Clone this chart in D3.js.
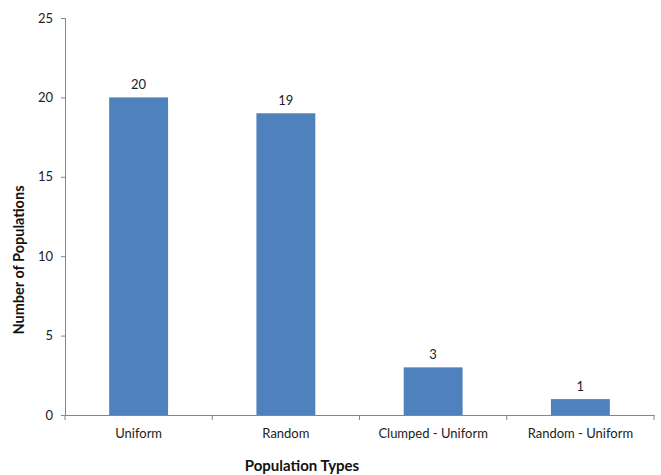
<!DOCTYPE html>
<html><head><meta charset="utf-8">
<script src="https://cdn.jsdelivr.net/npm/d3@7"></script>
<style>body{margin:0;background:#fff}svg{display:block}</style>
</head><body>
<script>
const categories = ["Uniform", "Random", "Clumped - Uniform", "Random - Uniform"];
const values = [20, 19, 3, 1];
const yTicks = [0, 5, 10, 15, 20, 25];
const xTitle = "Population Types";
const yTitle = "Number of Populations";

const W = 661, H = 475;
const m = {left: 65, right: 7, top: 18, bottom: 60};
const font = "Lato, 'Open Sans', sans-serif";
const svg = d3.select("body").append("svg").attr("width", W).attr("height", H);

const x = d3.scaleBand().domain(categories).range([m.left, W - m.right]).paddingInner(0.6).paddingOuter(0.3);
const y = d3.scaleLinear().domain([0, 25]).range([H - m.bottom, m.top]);

const axisColor = "#868686";
// y axis
const ya = svg.append("g").attr("transform", `translate(${m.left},0)`)
  .call(d3.axisLeft(y).tickValues(yTicks).tickSize(4).tickPadding(8));
ya.select(".domain").attr("stroke", axisColor);
ya.selectAll(".tick line").attr("stroke", axisColor);
ya.selectAll("text").attr("font-family", font).attr("font-size", 13).attr("fill", "#222");

// bars
svg.selectAll("rect.bar").data(values).enter().append("rect")
  .attr("x", (d, i) => x(categories[i]))
  .attr("y", d => y(d))
  .attr("width", x.bandwidth())
  .attr("height", d => y(0) - y(d))
  .attr("fill", "#4F81BD");

// x axis
const xa = svg.append("g").attr("transform", `translate(0,${y(0)})`)
  .call(d3.axisBottom(x).tickSize(0).tickPadding(14));
xa.select(".domain").attr("stroke", axisColor);
xa.selectAll("text").attr("font-family", font).attr("font-size", 13).attr("fill", "#222");
// category boundary ticks
const bounds = d3.range(categories.length + 1).map(i => m.left + i * (W - m.left - m.right) / categories.length);
xa.selectAll("line.b").data(bounds).enter().append("line")
  .attr("x1", d => d).attr("x2", d => d).attr("y1", 0).attr("y2", 5).attr("stroke", axisColor);

// value labels
svg.selectAll("text.val").data(values).enter().append("text")
  .attr("x", (d, i) => x(categories[i]) + x.bandwidth() / 2)
  .attr("y", d => y(d) - 8)
  .attr("text-anchor", "middle")
  .attr("font-family", font).attr("font-size", 13).attr("fill", "#222")
  .text(d => d);

// titles
svg.append("text").attr("x", 302).attr("y", 471).attr("text-anchor", "middle")
  .attr("font-family", font).attr("font-size", 15).attr("font-weight", "bold").attr("fill", "#111").text(xTitle);
svg.append("text").attr("transform", `translate(24,260) rotate(-90)`).attr("text-anchor", "middle")
  .attr("font-family", font).attr("font-size", 14.5).attr("font-weight", "bold").attr("fill", "#111").text(yTitle);
</script>
</body></html>
